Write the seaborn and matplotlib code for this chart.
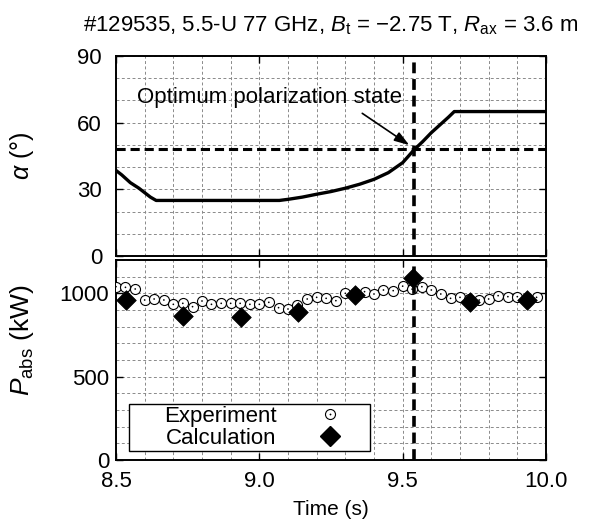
import matplotlib
matplotlib.use("Agg")
import matplotlib.pyplot as plt
from matplotlib.lines import Line2D
from matplotlib.patches import Rectangle
from matplotlib.ticker import MultipleLocator, FormatStrFormatter
import seaborn as sns
import pandas as pd

# ---- data ----
alpha_time = [8.50, 8.52, 8.55, 8.58, 8.60, 8.62, 8.64, 9.07, 9.10, 9.15, 9.20, 9.25,
              9.30, 9.35, 9.40, 9.45, 9.50, 9.54, 9.57, 9.60, 9.63, 9.66, 9.68, 10.00]
alpha_deg = [38.5, 36.5, 33.0, 30.5, 28.5, 26.5, 25.0, 25.0, 25.5, 26.5, 27.8, 29.0,
             30.5, 32.3, 34.5, 37.5, 42.0, 47.8, 51.5, 55.5, 59.0, 62.5, 65.0, 65.0]

exp_time = [8.500, 8.533, 8.567, 8.600, 8.633, 8.667, 8.700, 8.733, 8.767, 8.800,
            8.833, 8.867, 8.900, 8.933, 8.967, 9.000, 9.033, 9.067, 9.100, 9.133,
            9.167, 9.200, 9.233, 9.267, 9.300, 9.333, 9.367, 9.400, 9.433, 9.467,
            9.500, 9.533, 9.567, 9.600, 9.633, 9.667, 9.700, 9.733, 9.767, 9.800,
            9.833, 9.867, 9.900, 9.933, 9.967]
exp_power = [1040, 1036, 1026, 960, 966, 960, 934, 940, 920, 954,
             934, 940, 940, 940, 934, 934, 946, 914, 906, 930,
             966, 976, 970, 956, 1000, 1000, 1010, 996, 1020, 1016,
             1043, 1025, 1040, 1020, 996, 970, 976, 966, 960, 966,
             986, 980, 980, 970, 976]

calc_time = [8.535, 8.735, 8.935, 9.135, 9.335, 9.535, 9.735, 9.935]
calc_power = [960, 866, 860, 890, 990, 1090, 950, 960]

t_opt = 9.54
alpha_opt = 48

title = "#129535, 5.5-U 77 GHz, $B_\\mathrm{t}$ = \u22122.75 T, $R_\\mathrm{ax}$ = 3.6 m"

# ---- style ----
sns.set_style("ticks")
plt.rcParams['font.family'] = ['Liberation Sans', 'DejaVu Sans']
plt.rcParams['mathtext.fontset'] = 'custom'
plt.rcParams['mathtext.rm'] = 'Liberation Sans'
plt.rcParams['mathtext.it'] = 'Liberation Sans:italic'
plt.rcParams['mathtext.bf'] = 'Liberation Sans:bold'
for key in ['text.color', 'axes.labelcolor', 'xtick.color', 'ytick.color',
            'xtick.labelcolor', 'ytick.labelcolor', 'axes.titlecolor']:
    plt.rcParams[key] = 'black'

fig = plt.figure(figsize=(5.95, 5.29), dpi=100)
L, R = 116 / 595, 546 / 595
ax1 = fig.add_axes([L, 1 - 256 / 529, R - L, 200 / 529])
ax2 = fig.add_axes([L, 1 - 460 / 529, R - L, 200 / 529])

df_a = pd.DataFrame({"t": alpha_time, "a": alpha_deg})
df_e = pd.DataFrame({"t": exp_time, "p": exp_power})
df_c = pd.DataFrame({"t": calc_time, "p": calc_power})

grid_kw = dict(color="#8a8a8a", linestyle=(0, (3, 2.5)), linewidth=0.7)
TICK_FS = 16

for ax in (ax1, ax2):
    ax.set_xlim(8.5, 10.0)
    ax.xaxis.set_major_locator(MultipleLocator(0.5))
    ax.xaxis.set_minor_locator(MultipleLocator(0.1))
    ax.grid(True, which="both", **grid_kw)
    ax.set_axisbelow(True)
    ax.tick_params(which="both", direction="in", top=True, right=True,
                   labelsize=TICK_FS, width=1.0, color="black", labelcolor="black")
    ax.tick_params(which="major", length=5)
    ax.tick_params(which="minor", length=0)
    for s in ax.spines.values():
        s.set_linewidth(1.4)
        s.set_color("black")
    ax.axvline(t_opt, color="black", linewidth=2.6, linestyle=(0, (3, 1.6)), zorder=5)

# top panel
sns.lineplot(data=df_a, x="t", y="a", ax=ax1, color="black", linewidth=2.4, zorder=4)
ax1.axhline(alpha_opt, color="black", linewidth=2.2, linestyle=(0, (3, 1.6)), zorder=5)
ax1.set_ylim(0, 90)
ax1.yaxis.set_major_locator(MultipleLocator(30))
ax1.yaxis.set_minor_locator(MultipleLocator(10))
ax1.set_xlabel("")
ax1.tick_params(labelbottom=False)
ax1.tick_params(axis="y", pad=10)
ax1.set_ylabel("$\\alpha$ (\u00b0)", fontsize=18, color="black")
ax1.yaxis.set_label_coords(-0.185, 0.5)
ax1.annotate("Optimum polarization state", xy=(9.531, 49.2), xytext=(8.572, 71.5),
             fontsize=16, va="center", ha="left", color="black", zorder=6)
ax1.annotate("", xy=(9.531, 49.2), xytext=(9.351, 64.9),
             arrowprops=dict(arrowstyle="-|>,head_length=0.9,head_width=0.3",
                             color="black", lw=1.2), zorder=6)
ax1.set_title(title, fontsize=16, pad=18, x=0.5, color="black")

# bottom panel
sns.scatterplot(data=df_e, x="t", y="p", ax=ax2, marker="o", s=52,
                facecolor="white", edgecolor="black", linewidth=0.8, zorder=3)
sns.scatterplot(data=df_e, x="t", y="p", ax=ax2, marker="o", s=1.5,
                color="black", edgecolor="none", zorder=3.5)
sns.scatterplot(data=df_c, x="t", y="p", ax=ax2, marker="D", s=100,
                color="black", edgecolor="black", linewidth=0.5, zorder=4)
ax2.set_ylim(0, 1200)
ax2.yaxis.set_major_locator(MultipleLocator(500))
ax2.yaxis.set_minor_locator(MultipleLocator(100))
ax2.xaxis.set_major_formatter(FormatStrFormatter("%.1f"))
ax2.tick_params(axis="x", pad=8)
ax2.tick_params(axis="y", pad=5)
ax2.set_xlabel("Time (s)", fontsize=15, labelpad=6, color="black")
ax2.set_ylabel("$P_\\mathrm{abs}$ (kW)", fontsize=19, color="black")
ax2.yaxis.set_label_coords(-0.185, 0.6)

# legend frame (drawn separately to mimic the wide box of the original)
ax2.add_patch(Rectangle((0.031, 0.0465), 0.56, 0.232, transform=ax2.transAxes,
                        facecolor="white", edgecolor="black", linewidth=1.0, zorder=9))

h_exp = (Line2D([], [], marker="o", linestyle="none", markersize=7.2,
                markerfacecolor="white", markeredgecolor="black", markeredgewidth=0.8),
         Line2D([], [], marker="o", linestyle="none", markersize=1.3,
                markerfacecolor="black", markeredgecolor="none"))
h_calc = Line2D([], [], marker="D", linestyle="none", markersize=10.2,
                markerfacecolor="black", markeredgecolor="black")
leg = ax2.legend([h_exp, h_calc], ["Experiment", "Calculation"], loc="lower left",
                 bbox_to_anchor=(0.112, 0.055), markerfirst=False, fontsize=16,
                 frameon=False, borderpad=0.0, labelspacing=0.05, handlelength=2.2,
                 handletextpad=1.3, borderaxespad=0, labelcolor="black")
leg.set_zorder(10)

fig.savefig("out.png", dpi=100)
